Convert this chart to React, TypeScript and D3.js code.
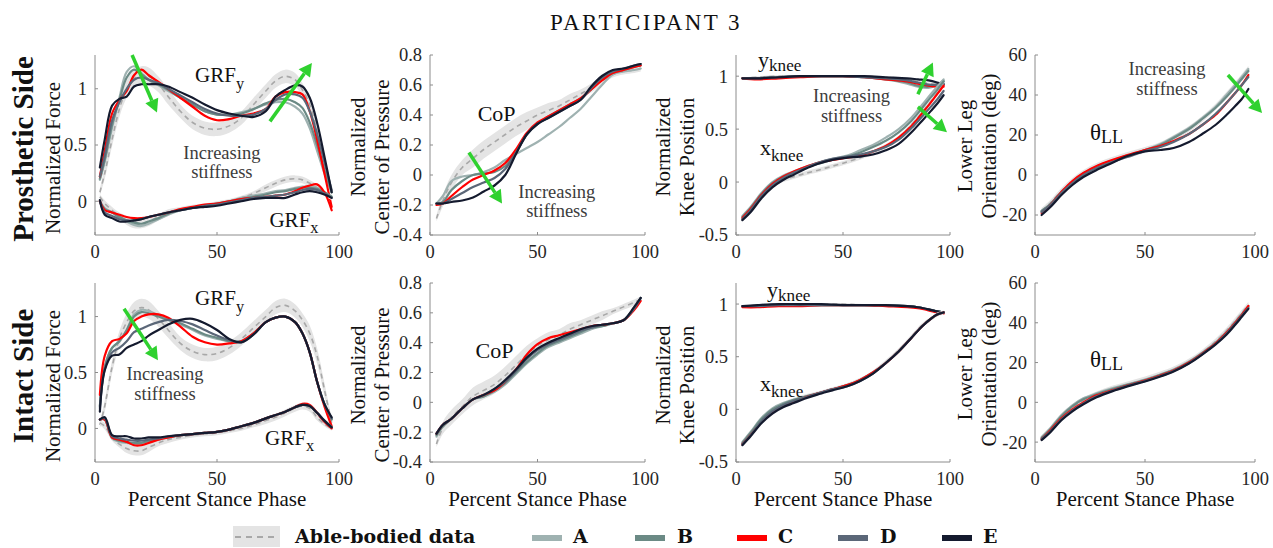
import React from 'react';
import * as d3 from 'd3';

// ---------------------------------------------------------------------------
// data (percent stance phase on x). Each table: row 0 = able-bodied mean,
// rows 1..5 = conditions A..E
// ---------------------------------------------------------------------------
const SERIES = ['A', 'B', 'C', 'D', 'E'];
const SERIES_COLORS = ['#9fb2b1', '#6b8a85', '#ff0000', '#5b6778', '#141a2e'];

const X_TICKS = [0, 50, 100];
const GRF_TICKS = [0, 0.5, 1];
const COP_TICKS = [-0.4, -0.2, 0, 0.2, 0.4, 0.6, 0.8];
const KNEE_TICKS = [-0.5, 0, 0.5, 1];
const THETA_TICKS = [-20, 0, 20, 40, 60];

const X_GRF = [2, 4, 7, 10, 13, 16, 19, 22, 26, 30, 35, 40, 45, 50, 55, 60, 65, 70, 74, 78, 82, 85, 88, 91, 94, 97];
const X_COP = [3, 6, 10, 15, 20, 25, 30, 35, 40, 45, 50, 55, 60, 65, 70, 75, 80, 85, 90, 95, 98];
const X_KY = [3, 10, 20, 30, 40, 50, 60, 70, 80, 85, 90, 94, 97];
const X_KX = [3, 7, 12, 17, 22, 27, 32, 38, 45, 52, 58, 64, 70, 76, 82, 87, 91, 94, 97];
const X_TH = [3, 7, 12, 17, 22, 28, 35, 42, 50, 57, 63, 70, 76, 82, 87, 91, 94, 97];

// able-bodied spread
const GRFY_SD = [0.03, 0.05, 0.06, 0.07, 0.08, 0.08, 0.08, 0.08, 0.07, 0.07, 0.06, 0.06, 0.06, 0.06, 0.06, 0.06, 0.06, 0.06, 0.06, 0.06, 0.06, 0.06, 0.07, 0.07, 0.06, 0.04];
const GRFX_SD = [0.02, 0.03, 0.03, 0.03, 0.04, 0.04, 0.04, 0.04, 0.03, 0.03, 0.02, 0.02, 0.02, 0.02, 0.02, 0.02, 0.02, 0.03, 0.03, 0.03, 0.03, 0.03, 0.03, 0.03, 0.02, 0.02];
const COP_SD = [0.02, 0.04, 0.05, 0.05, 0.06, 0.06, 0.06, 0.06, 0.06, 0.06, 0.05, 0.05, 0.04, 0.04, 0.03, 0.03, 0.03, 0.02, 0.02, 0.02, 0.02];
const KY_SD = [0.01, 0.01, 0.01, 0.01, 0.01, 0.01, 0.01, 0.01, 0.01, 0.01, 0.01, 0.01, 0.01];
const KX_SD = [0.02, 0.02, 0.02, 0.02, 0.02, 0.02, 0.02, 0.02, 0.02, 0.02, 0.02, 0.02, 0.02, 0.02, 0.02, 0.02, 0.02, 0.02, 0.02];
const TH_SD = [1.5, 1.5, 1.5, 1.5, 1.5, 1.5, 1.5, 1.5, 1.5, 1.5, 1.5, 1.5, 1.5, 1.5, 1.5, 1.5, 1.5, 1.5];

// prosthetic side
const P_GRFY = [
  [0.08, 0.25, 0.55, 0.82, 1.0, 1.09, 1.12, 1.11, 1.04, 0.93, 0.8, 0.7, 0.65, 0.64, 0.67, 0.74, 0.86, 0.98, 1.07, 1.11, 1.08, 0.99, 0.86, 0.62, 0.35, 0.08],
  [0.19, 0.35, 0.65, 0.92, 1.15, 1.2, 1.14, 1.08, 1.03, 0.98, 0.92, 0.86, 0.8, 0.77, 0.77, 0.79, 0.82, 0.86, 0.88, 0.88, 0.84, 0.78, 0.65, 0.45, 0.25, 0.08],
  [0.2, 0.37, 0.68, 0.9, 1.1, 1.17, 1.13, 1.08, 1.04, 0.99, 0.92, 0.86, 0.8, 0.77, 0.77, 0.78, 0.82, 0.87, 0.9, 0.91, 0.88, 0.83, 0.7, 0.5, 0.28, 0.08],
  [0.22, 0.45, 0.78, 0.9, 0.98, 1.12, 1.17, 1.12, 1.06, 1.0, 0.92, 0.84, 0.76, 0.72, 0.73, 0.76, 0.78, 0.82, 0.93, 0.97, 0.97, 0.95, 0.8, 0.55, 0.25, -0.05],
  [0.22, 0.4, 0.72, 0.88, 1.0, 1.08, 1.1, 1.08, 1.05, 1.0, 0.94, 0.88, 0.82, 0.78, 0.76, 0.76, 0.77, 0.82, 0.9, 0.95, 0.95, 0.92, 0.8, 0.6, 0.35, 0.1],
  [0.3, 0.55, 0.85, 0.91, 0.93, 1.02, 1.04, 1.04, 1.04, 1.02, 0.97, 0.92, 0.86, 0.81, 0.78, 0.76, 0.75, 0.8, 0.93, 0.99, 1.03, 1.02, 0.92, 0.7, 0.4, 0.08],
];
const P_GRFX = [
  [0.04, -0.02, -0.08, -0.13, -0.17, -0.2, -0.2, -0.18, -0.14, -0.1, -0.07, -0.05, -0.04, -0.02, 0.0, 0.03, 0.07, 0.12, 0.16, 0.19, 0.2, 0.19, 0.16, 0.12, 0.07, 0.03],
  [0.0, -0.06, -0.1, -0.14, -0.18, -0.21, -0.22, -0.2, -0.16, -0.12, -0.08, -0.06, -0.04, -0.02, 0.0, 0.03, 0.05, 0.07, 0.09, 0.1, 0.12, 0.13, 0.13, 0.12, 0.08, 0.04],
  [0.0, -0.07, -0.1, -0.14, -0.17, -0.19, -0.2, -0.18, -0.15, -0.11, -0.08, -0.06, -0.04, -0.02, 0.0, 0.02, 0.04, 0.06, 0.08, 0.09, 0.11, 0.12, 0.12, 0.11, 0.08, 0.04],
  [0.0, -0.08, -0.1, -0.12, -0.14, -0.15, -0.15, -0.14, -0.12, -0.1, -0.07, -0.05, -0.03, -0.02, 0.0, 0.02, 0.03, 0.04, 0.05, 0.06, 0.09, 0.12, 0.14, 0.15, 0.08, -0.08],
  [0.0, -0.1, -0.13, -0.16, -0.17, -0.17, -0.16, -0.14, -0.12, -0.1, -0.08, -0.06, -0.04, -0.03, -0.01, 0.01, 0.03, 0.04, 0.05, 0.06, 0.08, 0.1, 0.11, 0.1, 0.07, 0.03],
  [0.01, -0.12, -0.15, -0.18, -0.18, -0.17, -0.16, -0.14, -0.12, -0.1, -0.08, -0.06, -0.05, -0.04, -0.02, 0.0, 0.02, 0.03, 0.03, 0.03, 0.06, 0.08, 0.09, 0.08, 0.06, 0.03],
];
const P_COP = [
  [-0.29, -0.17, -0.05, 0.05, 0.11, 0.17, 0.22, 0.27, 0.32, 0.36, 0.4, 0.43, 0.46, 0.5, 0.54, 0.58, 0.63, 0.67, 0.69, 0.7, 0.71],
  [-0.19, -0.14, -0.04, -0.01, 0.0, 0.02, 0.05, 0.1, 0.14, 0.18, 0.22, 0.27, 0.32, 0.38, 0.44, 0.52, 0.6, 0.67, 0.69, 0.7, 0.71],
  [-0.19, -0.18, -0.1, -0.04, 0.0, 0.01, 0.02, 0.06, 0.15, 0.27, 0.34, 0.39, 0.43, 0.47, 0.51, 0.57, 0.64, 0.68, 0.7, 0.72, 0.73],
  [-0.2, -0.19, -0.14, -0.08, -0.03, 0.0, 0.03, 0.08, 0.17, 0.28, 0.35, 0.39, 0.43, 0.47, 0.51, 0.57, 0.63, 0.68, 0.7, 0.72, 0.73],
  [-0.19, -0.19, -0.16, -0.12, -0.08, -0.05, -0.02, 0.04, 0.15, 0.27, 0.34, 0.38, 0.42, 0.46, 0.5, 0.58, 0.65, 0.69, 0.71, 0.73, 0.74],
  [-0.19, -0.19, -0.18, -0.17, -0.15, -0.11, -0.07, 0.0, 0.14, 0.27, 0.34, 0.38, 0.42, 0.46, 0.5, 0.59, 0.66, 0.7, 0.71, 0.73, 0.74],
];
const P_KY = [
  [0.98, 0.99, 1.0, 1.0, 1.0, 1.0, 1.0, 0.99, 0.97, 0.95, 0.93, 0.92, 0.92],
  [0.98, 0.98, 0.99, 1.0, 1.0, 1.0, 0.99, 0.97, 0.93, 0.9, 0.89, 0.92, 0.96],
  [0.98, 0.98, 0.99, 1.0, 1.0, 1.0, 0.99, 0.97, 0.94, 0.91, 0.9, 0.92, 0.95],
  [0.98, 0.97, 0.98, 0.99, 1.0, 1.0, 0.99, 0.97, 0.95, 0.93, 0.91, 0.9, 0.9],
  [0.98, 0.98, 0.99, 1.0, 1.0, 1.0, 0.99, 0.98, 0.96, 0.94, 0.92, 0.92, 0.93],
  [0.98, 0.98, 0.99, 1.0, 1.0, 1.0, 1.0, 0.99, 0.98, 0.97, 0.96, 0.94, 0.92],
];
const P_KX = [
  [-0.33, -0.24, -0.12, -0.03, 0.02, 0.05, 0.08, 0.11, 0.15, 0.19, 0.23, 0.28, 0.34, 0.42, 0.54, 0.66, 0.76, 0.84, 0.92],
  [-0.32, -0.23, -0.1, 0.0, 0.06, 0.1, 0.14, 0.18, 0.22, 0.25, 0.3, 0.35, 0.42, 0.5, 0.61, 0.73, 0.83, 0.9, 0.97],
  [-0.33, -0.24, -0.11, -0.01, 0.05, 0.09, 0.13, 0.17, 0.21, 0.24, 0.28, 0.33, 0.39, 0.47, 0.58, 0.7, 0.8, 0.87, 0.95],
  [-0.34, -0.25, -0.12, -0.02, 0.05, 0.1, 0.14, 0.18, 0.21, 0.23, 0.25, 0.29, 0.34, 0.42, 0.53, 0.65, 0.75, 0.83, 0.91],
  [-0.35, -0.26, -0.13, -0.03, 0.04, 0.09, 0.13, 0.18, 0.22, 0.24, 0.26, 0.29, 0.33, 0.4, 0.51, 0.62, 0.71, 0.78, 0.86],
  [-0.36, -0.28, -0.15, -0.05, 0.02, 0.07, 0.12, 0.17, 0.21, 0.23, 0.24, 0.26, 0.3, 0.36, 0.47, 0.58, 0.67, 0.74, 0.82],
];
const P_TH = [
  [-18, -14, -8, -3, 1, 4.5, 7.5, 10, 12.5, 15, 18.5, 23, 28, 34, 40, 45, 49, 53],
  [-18, -14.5, -8.5, -3.5, 0.5, 4, 7, 9.5, 12.5, 15.5, 19, 23.5, 28.5, 34, 40, 45, 49, 53],
  [-18, -14.5, -8.5, -3.5, 0.5, 4, 7, 9.5, 12.5, 15, 18.5, 23, 28, 33.5, 39, 44, 48, 52],
  [-19, -15, -8.5, -3, 1, 4.5, 7.5, 10, 12.5, 14.5, 17, 20.5, 25, 30, 36, 41, 45, 50],
  [-18.5, -15, -9, -4, 0, 3.5, 6.5, 9, 12, 14, 16.5, 20.5, 25, 30.5, 36, 41, 45, 49],
  [-20, -16, -10, -5, -1, 2.5, 6, 9.5, 11.8, 12.5, 13.5, 16.5, 20.5, 25, 30, 34.5, 38, 43],
];

// intact side
const I_GRFY = [
  [0.03, 0.2, 0.55, 0.8, 0.95, 1.05, 1.08, 1.06, 0.98, 0.88, 0.76, 0.69, 0.66, 0.67, 0.72, 0.8, 0.9, 1.0, 1.08, 1.1, 1.05, 0.97, 0.85, 0.65, 0.35, 0.05],
  [0.2, 0.55, 0.72, 0.78, 0.88, 1.02, 1.06, 1.05, 1.01, 0.97, 0.93, 0.88, 0.83, 0.8, 0.78, 0.78, 0.85, 0.95, 0.99, 1.0, 0.95, 0.85, 0.68, 0.42, 0.22, 0.08],
  [0.2, 0.55, 0.72, 0.78, 0.88, 1.0, 1.04, 1.03, 1.0, 0.97, 0.94, 0.89, 0.84, 0.81, 0.78, 0.78, 0.85, 0.95, 0.99, 1.0, 0.95, 0.85, 0.68, 0.42, 0.22, 0.08],
  [0.3, 0.65, 0.78, 0.8, 0.85, 0.96, 1.0, 1.02, 1.02, 0.99, 0.91, 0.82, 0.77, 0.75, 0.76, 0.78, 0.85, 0.95, 0.99, 1.0, 0.95, 0.85, 0.68, 0.42, 0.2, 0.02],
  [0.18, 0.53, 0.68, 0.72, 0.78, 0.86, 0.89, 0.92, 0.95, 0.97, 0.96, 0.93, 0.88, 0.83, 0.79, 0.77, 0.84, 0.95, 0.99, 1.0, 0.95, 0.85, 0.68, 0.42, 0.22, 0.09],
  [0.15, 0.52, 0.65, 0.66, 0.72, 0.75, 0.78, 0.83, 0.88, 0.93, 0.97, 0.98, 0.94, 0.88, 0.8, 0.77, 0.84, 0.95, 0.99, 1.0, 0.95, 0.85, 0.68, 0.42, 0.22, 0.1],
];
const I_GRFX = [
  [0.05, 0.02, -0.08, -0.14, -0.18, -0.2, -0.2, -0.17, -0.13, -0.1, -0.08, -0.06, -0.05, -0.04, -0.02, 0.0, 0.03, 0.07, 0.1, 0.14, 0.18, 0.2, 0.18, 0.1, 0.04, 0.0],
  [0.08, 0.08, -0.09, -0.12, -0.13, -0.14, -0.14, -0.12, -0.1, -0.08, -0.06, -0.05, -0.04, -0.03, -0.01, 0.02, 0.05, 0.09, 0.12, 0.15, 0.19, 0.21, 0.2, 0.14, 0.07, 0.01],
  [0.08, 0.08, -0.08, -0.11, -0.12, -0.13, -0.13, -0.11, -0.09, -0.08, -0.06, -0.05, -0.04, -0.03, -0.01, 0.02, 0.05, 0.09, 0.12, 0.15, 0.19, 0.21, 0.2, 0.14, 0.07, 0.01],
  [0.08, 0.08, -0.08, -0.1, -0.12, -0.15, -0.15, -0.13, -0.1, -0.08, -0.06, -0.05, -0.04, -0.03, -0.01, 0.02, 0.05, 0.09, 0.12, 0.15, 0.19, 0.22, 0.21, 0.14, 0.06, 0.0],
  [0.08, 0.09, -0.07, -0.09, -0.1, -0.11, -0.11, -0.1, -0.09, -0.07, -0.06, -0.05, -0.04, -0.03, -0.01, 0.02, 0.05, 0.09, 0.12, 0.15, 0.19, 0.21, 0.2, 0.14, 0.07, 0.01],
  [0.08, 0.1, -0.06, -0.07, -0.07, -0.09, -0.09, -0.08, -0.08, -0.07, -0.06, -0.05, -0.04, -0.03, -0.01, 0.02, 0.05, 0.09, 0.12, 0.15, 0.19, 0.21, 0.2, 0.14, 0.07, 0.01],
];
const I_COP = [
  [-0.28, -0.17, -0.1, -0.03, 0.04, 0.08, 0.12, 0.18, 0.25, 0.32, 0.38, 0.42, 0.45, 0.49, 0.52, 0.55, 0.58, 0.61, 0.64, 0.67, 0.69],
  [-0.23, -0.16, -0.11, -0.04, 0.02, 0.04, 0.07, 0.12, 0.19, 0.26, 0.32, 0.37, 0.4, 0.43, 0.46, 0.49, 0.51, 0.53, 0.55, 0.63, 0.7],
  [-0.22, -0.16, -0.11, -0.04, 0.02, 0.04, 0.08, 0.13, 0.2, 0.27, 0.33, 0.38, 0.41, 0.44, 0.47, 0.5, 0.51, 0.53, 0.55, 0.63, 0.7],
  [-0.21, -0.15, -0.11, -0.04, 0.02, 0.05, 0.08, 0.14, 0.22, 0.32, 0.39, 0.43, 0.45, 0.47, 0.49, 0.51, 0.52, 0.53, 0.55, 0.62, 0.68],
  [-0.21, -0.15, -0.11, -0.04, 0.02, 0.05, 0.09, 0.14, 0.21, 0.29, 0.35, 0.39, 0.42, 0.45, 0.48, 0.5, 0.52, 0.53, 0.55, 0.63, 0.7],
  [-0.21, -0.15, -0.11, -0.04, 0.02, 0.05, 0.09, 0.15, 0.22, 0.3, 0.36, 0.4, 0.43, 0.46, 0.49, 0.51, 0.52, 0.53, 0.55, 0.64, 0.7],
];
const I_KY = [
  [0.98, 0.99, 1.0, 1.0, 1.0, 1.0, 0.99, 0.99, 0.98, 0.97, 0.95, 0.93, 0.92],
  [0.98, 0.98, 0.99, 0.99, 0.99, 0.99, 0.99, 0.99, 0.98, 0.97, 0.95, 0.93, 0.92],
  [0.98, 0.98, 0.99, 0.99, 0.99, 0.99, 0.99, 0.99, 0.98, 0.97, 0.95, 0.93, 0.92],
  [0.97, 0.97, 0.98, 0.98, 0.99, 0.99, 0.99, 0.98, 0.97, 0.96, 0.94, 0.92, 0.91],
  [0.98, 0.98, 0.99, 0.99, 0.99, 0.99, 0.99, 0.99, 0.98, 0.97, 0.95, 0.93, 0.92],
  [0.98, 0.99, 1.0, 1.0, 1.0, 0.99, 0.99, 0.99, 0.98, 0.97, 0.95, 0.93, 0.92],
];
const I_KX = [
  [-0.32, -0.22, -0.1, -0.01, 0.05, 0.09, 0.12, 0.15, 0.19, 0.23, 0.28, 0.35, 0.45, 0.56, 0.69, 0.8, 0.86, 0.9, 0.92],
  [-0.31, -0.21, -0.08, 0.01, 0.06, 0.09, 0.12, 0.15, 0.19, 0.23, 0.28, 0.35, 0.44, 0.55, 0.68, 0.79, 0.86, 0.9, 0.92],
  [-0.32, -0.22, -0.09, 0.0, 0.05, 0.09, 0.12, 0.15, 0.19, 0.23, 0.28, 0.35, 0.44, 0.55, 0.68, 0.79, 0.86, 0.9, 0.92],
  [-0.33, -0.24, -0.12, -0.03, 0.03, 0.07, 0.11, 0.15, 0.19, 0.23, 0.28, 0.35, 0.44, 0.55, 0.68, 0.79, 0.86, 0.9, 0.92],
  [-0.33, -0.24, -0.11, -0.02, 0.04, 0.08, 0.11, 0.15, 0.19, 0.22, 0.27, 0.34, 0.44, 0.55, 0.68, 0.79, 0.86, 0.9, 0.92],
  [-0.34, -0.25, -0.13, -0.04, 0.02, 0.06, 0.1, 0.14, 0.18, 0.22, 0.27, 0.34, 0.44, 0.55, 0.68, 0.79, 0.86, 0.9, 0.92],
];
const I_TH = [
  [-18, -13.5, -7, -2.5, 1, 4, 6.8, 9, 11.5, 14, 16.5, 20.5, 25, 30.5, 36, 41, 45, 49],
  [-17.5, -13, -6.5, -1.5, 2, 4.5, 7, 9, 11.5, 14, 16.5, 20.5, 25, 30, 35.5, 40.5, 44.5, 48.5],
  [-18, -13.5, -7, -2, 1.5, 4, 6.5, 8.8, 11.2, 13.8, 16.2, 20.2, 24.7, 29.7, 35, 40, 44, 48],
  [-18.5, -14, -8, -3.5, 0, 3.5, 6, 8.5, 11, 13.5, 16, 20, 24.5, 29.5, 35, 40, 44, 48.5],
  [-18.5, -14.5, -8.5, -4, -0.5, 3, 5.8, 8.3, 10.7, 13.2, 15.7, 19.7, 24.2, 29.2, 34.5, 39.5, 43.5, 47.5],
  [-19, -15, -9, -4.5, -1, 2.5, 5.5, 8, 10.5, 13, 15.5, 19.5, 24, 29, 34, 39, 43, 47],
];

// ---------------------------------------------------------------------------
// layout / style
// ---------------------------------------------------------------------------
const W = 1273;
const H = 548;
const FONT = '"Liberation Serif", "Times New Roman", serif';
const LEGEND_FONT = '"DejaVu Serif", serif';
const AXIS = '#8c8c8c';
const BAND = '#e4e4e4';
const MEAN = '#a8a8a8';
const GREEN = '#2fd12f';
const NOTE_GRAY = '#3c3c3c';
const COLS = [[95, 339], [430, 645], [736, 950], [1035, 1255]];
const ROWS = [[55, 235], [283, 462]];
const ROW_SHIFT = 228;

const YLABELS = [
  [{ text: 'Normalized Force', bx: 60, cy: 158 }],
  [{ text: 'Normalized', bx: 365, cy: 147 }, { text: 'Center of Pressure', bx: 389, cy: 157 }],
  [{ text: 'Normalized', bx: 670, cy: 147 }, { text: 'Knee Position', bx: 694, cy: 157 }],
  [{ text: 'Lower Leg', bx: 972, cy: 146 }, { text: 'Orientation (deg)', bx: 996, cy: 146 }],
];

const stiff = (x, y1, y2) => [
  { x, y: y1, main: 'Increasing', size: 18.5, anchor: 'middle', color: NOTE_GRAY },
  { x, y: y2, main: 'stiffness', size: 18.5, anchor: 'middle', color: NOTE_GRAY },
];

const PANELS = [
  {
    row: 0, col: 0, domain: [-0.3, 1.3], ticks: GRF_TICKS,
    groups: [{ x: X_GRF, rows: P_GRFY, sd: GRFY_SD }, { x: X_GRF, rows: P_GRFX, sd: GRFX_SD }],
    notes: [
      { x: 41, y: 1.06, main: 'GRF', sub: 'y', size: 21, dy: 7 },
      { x: 71.5, y: -0.23, main: 'GRF', sub: 'x', size: 21, dy: 6 },
      ...stiff(52, 0.38, 0.21),
    ],
    arrows: [[15.2, 1.3, 25.4, 0.79], [71.7, 0.71, 88.9, 1.23]],
  },
  {
    row: 0, col: 1, domain: [-0.4, 0.8], ticks: COP_TICKS,
    groups: [{ x: X_COP, rows: P_COP, sd: COP_SD }],
    notes: [{ x: 31, y: 0.36, main: 'CoP', size: 22, anchor: 'middle' }, ...stiff(59, -0.15, -0.28)],
    arrows: [[18.1, 0.15, 33.5, -0.19]],
  },
  {
    row: 0, col: 2, domain: [-0.5, 1.2], ticks: KNEE_TICKS,
    groups: [{ x: X_KY, rows: P_KY, sd: KY_SD }, { x: X_KX, rows: P_KX, sd: KX_SD }],
    notes: [
      { x: 10.3, y: 1.09, main: 'y', sub: 'knee', size: 22, dy: 4 },
      { x: 11.2, y: 0.26, main: 'x', sub: 'knee', size: 22, dy: 6 },
      ...stiff(54, 0.76, 0.57),
    ],
    arrows: [[85, 0.83, 92, 1.13], [85, 0.71, 98.6, 0.47]],
  },
  {
    row: 0, col: 3, domain: [-30, 60], ticks: THETA_TICKS,
    groups: [{ x: X_TH, rows: P_TH, sd: TH_SD }],
    notes: [{ x: 25, y: 17.5, main: 'θ', sub: 'LL', size: 23, dy: 3 }, ...stiff(60, 50, 40)],
    arrows: [[87.7, 50, 103.2, 31]],
  },
  {
    row: 1, col: 0, domain: [-0.3, 1.3], ticks: GRF_TICKS,
    groups: [{ x: X_GRF, rows: I_GRFY, sd: GRFY_SD }, { x: X_GRF, rows: I_GRFX, sd: GRFX_SD }],
    notes: [
      { x: 41, y: 1.1, main: 'GRF', sub: 'y', size: 21, dy: 7 },
      { x: 69.7, y: -0.15, main: 'GRF', sub: 'x', size: 21, dy: 6 },
      ...stiff(28.7, 0.43, 0.25),
    ],
    arrows: [[11.9, 1.07, 25.8, 0.61]],
  },
  {
    row: 1, col: 1, domain: [-0.4, 0.8], ticks: COP_TICKS,
    groups: [{ x: X_COP, rows: I_COP, sd: COP_SD }],
    notes: [{ x: 30, y: 0.3, main: 'CoP', size: 22, anchor: 'middle' }],
    arrows: [],
  },
  {
    row: 1, col: 2, domain: [-0.5, 1.2], ticks: KNEE_TICKS,
    groups: [{ x: X_KY, rows: I_KY, sd: KY_SD }, { x: X_KX, rows: I_KX, sd: KX_SD }],
    notes: [
      { x: 14.5, y: 1.07, main: 'y', sub: 'knee', size: 22, dy: 4 },
      { x: 11.2, y: 0.17, main: 'x', sub: 'knee', size: 22, dy: 6 },
    ],
    arrows: [],
  },
  {
    row: 1, col: 3, domain: [-30, 60], ticks: THETA_TICKS,
    groups: [{ x: X_TH, rows: I_TH, sd: TH_SD }],
    notes: [{ x: 25, y: 17.6, main: 'θ', sub: 'LL', size: 23, dy: 3 }],
    arrows: [],
  },
];

const LEGEND_ITEMS = [
  { swatch: 532, text: 573 },
  { swatch: 635, text: 677 },
  { swatch: 737, text: 778 },
  { swatch: 838, text: 880 },
  { swatch: 942, text: 983 },
];

function Arrow({ x1, y1, x2, y2 }) {
  const dx = x2 - x1;
  const dy = y2 - y1;
  const len = Math.hypot(dx, dy);
  const ux = dx / len;
  const uy = dy / len;
  const hl = 13;
  const hw = 7;
  const bx = x2 - ux * hl;
  const by = y2 - uy * hl;
  return (
    <g>
      <line x1={x1} y1={y1} x2={bx} y2={by} stroke={GREEN} strokeWidth={3.5} />
      <polygon
        points={`${x2},${y2} ${bx - uy * hw},${by + ux * hw} ${bx + uy * hw},${by - ux * hw}`}
        fill={GREEN}
      />
    </g>
  );
}

function Panel({ spec }) {
  const [x0, x1] = COLS[spec.col];
  const [yt, yb] = ROWS[spec.row];
  const xs = d3.scaleLinear().domain([0, 100]).range([x0, x1]);
  const ys = d3.scaleLinear().domain(spec.domain).range([yb, yt]);
  const curve = d3.curveCatmullRom.alpha(0.5);
  const line = d3
    .line<[number, number]>()
    .x((d) => xs(d[0]))
    .y((d) => ys(d[1]))
    .curve(curve);
  const band = d3
    .area<[number, number, number]>()
    .x((d) => xs(d[0]))
    .y0((d) => ys(d[1] - d[2]))
    .y1((d) => ys(d[1] + d[2]))
    .curve(curve);

  return (
    <g>
      {spec.groups.map((g, gi) => {
        const mean = g.rows[0];
        return (
          <g key={gi}>
            <path d={band(mean.map((v, i) => [g.x[i], v, g.sd[i]]))} fill={BAND} />
            <path
              d={line(mean.map((v, i) => [g.x[i], v]))}
              fill="none"
              stroke={MEAN}
              strokeWidth={1.6}
              strokeDasharray="5 4"
            />
            {SERIES.map((s, si) => (
              <path
                key={s}
                d={line(g.rows[si + 1].map((v, i) => [g.x[i], v]))}
                fill="none"
                stroke={SERIES_COLORS[si]}
                strokeWidth={2.2}
                strokeLinejoin="round"
                strokeLinecap="round"
              />
            ))}
          </g>
        );
      })}

      {/* axes */}
      <line x1={x0} x2={x0} y1={yt} y2={yb} stroke={AXIS} />
      <line x1={x0} x2={x1} y1={yb} y2={yb} stroke={AXIS} />
      {spec.ticks.map((t) => (
        <g key={t}>
          <line x1={x0} x2={x0 + 3} y1={ys(t)} y2={ys(t)} stroke={AXIS} />
          <text x={x0 - 8} y={ys(t)} dy="0.35em" textAnchor="end" fontSize={18.5} fill="#262626">
            {String(t)}
          </text>
        </g>
      ))}
      {X_TICKS.map((t) => (
        <g key={t}>
          <line x1={xs(t)} x2={xs(t)} y1={yb} y2={yb - 3} stroke={AXIS} />
          <text x={xs(t)} y={yb + 23} textAnchor="middle" fontSize={18.5} fill="#262626">
            {String(t)}
          </text>
        </g>
      ))}

      {spec.notes.map((n, ni) => (
        <text
          key={ni}
          x={xs(n.x)}
          y={ys(n.y)}
          fontSize={n.size}
          textAnchor={n.anchor || 'start'}
          fill={n.color || '#111'}
        >
          {n.main}
          {n.sub ? (
            <tspan dy={n.dy} fontSize={n.size * 0.78}>
              {n.sub}
            </tspan>
          ) : null}
        </text>
      ))}
      {spec.arrows.map((a, ai) => (
        <Arrow key={ai} x1={xs(a[0])} y1={ys(a[1])} x2={xs(a[2])} y2={ys(a[3])} />
      ))}
    </g>
  );
}

export default function App() {
  return (
    <svg
      width={W}
      height={H}
      style={{ position: 'absolute', left: 0, top: 0, display: 'block' }}
      fontFamily={FONT}
    >
      <rect width={W} height={H} fill="#fff" />
      <text x={646} y={30} textAnchor="middle" fontSize={23} letterSpacing={2.4} fill="#111">
        PARTICIPANT 3
      </text>

      {PANELS.map((p, i) => (
        <Panel key={i} spec={p} />
      ))}

      {/* row titles */}
      <text transform="translate(33,149) rotate(-90)" textAnchor="middle" fontSize={29} fontWeight="bold" fill="#111">
        Prosthetic Side
      </text>
      <text transform="translate(33,376) rotate(-90)" textAnchor="middle" fontSize={29} fontWeight="bold" fill="#111">
        Intact Side
      </text>

      {/* y labels */}
      {[0, 1].map((r) =>
        YLABELS.map((col, ci) =>
          col.map((l, li) => (
            <text
              key={`${r}-${ci}-${li}`}
              transform={`translate(${l.bx},${l.cy + r * ROW_SHIFT}) rotate(-90)`}
              textAnchor="middle"
              fontSize={21}
              fill="#111"
            >
              {l.text}
            </text>
          )),
        ),
      )}

      {/* x labels */}
      {COLS.map((c, ci) => (
        <text key={ci} x={(c[0] + c[1]) / 2} y={506} textAnchor="middle" fontSize={21} fill="#111">
          Percent Stance Phase
        </text>
      ))}

      {/* legend */}
      <g fontFamily={LEGEND_FONT} fontWeight="bold" fontSize={19} fill="#111">
        <rect x={233} y={526} width={47} height={21} fill={BAND} />
        <line x1={235} x2={279} y1={537} y2={537} stroke={MEAN} strokeWidth={2} strokeDasharray="6 5" />
        <text x={295} y={543}>
          Able-bodied data
        </text>
        {LEGEND_ITEMS.map((it, i) => (
          <g key={SERIES[i]}>
            <rect x={it.swatch} y={535} width={30} height={6} fill={SERIES_COLORS[i]} />
            <text x={it.text} y={543}>
              {SERIES[i]}
            </text>
          </g>
        ))}
      </g>
    </svg>
  );
}
